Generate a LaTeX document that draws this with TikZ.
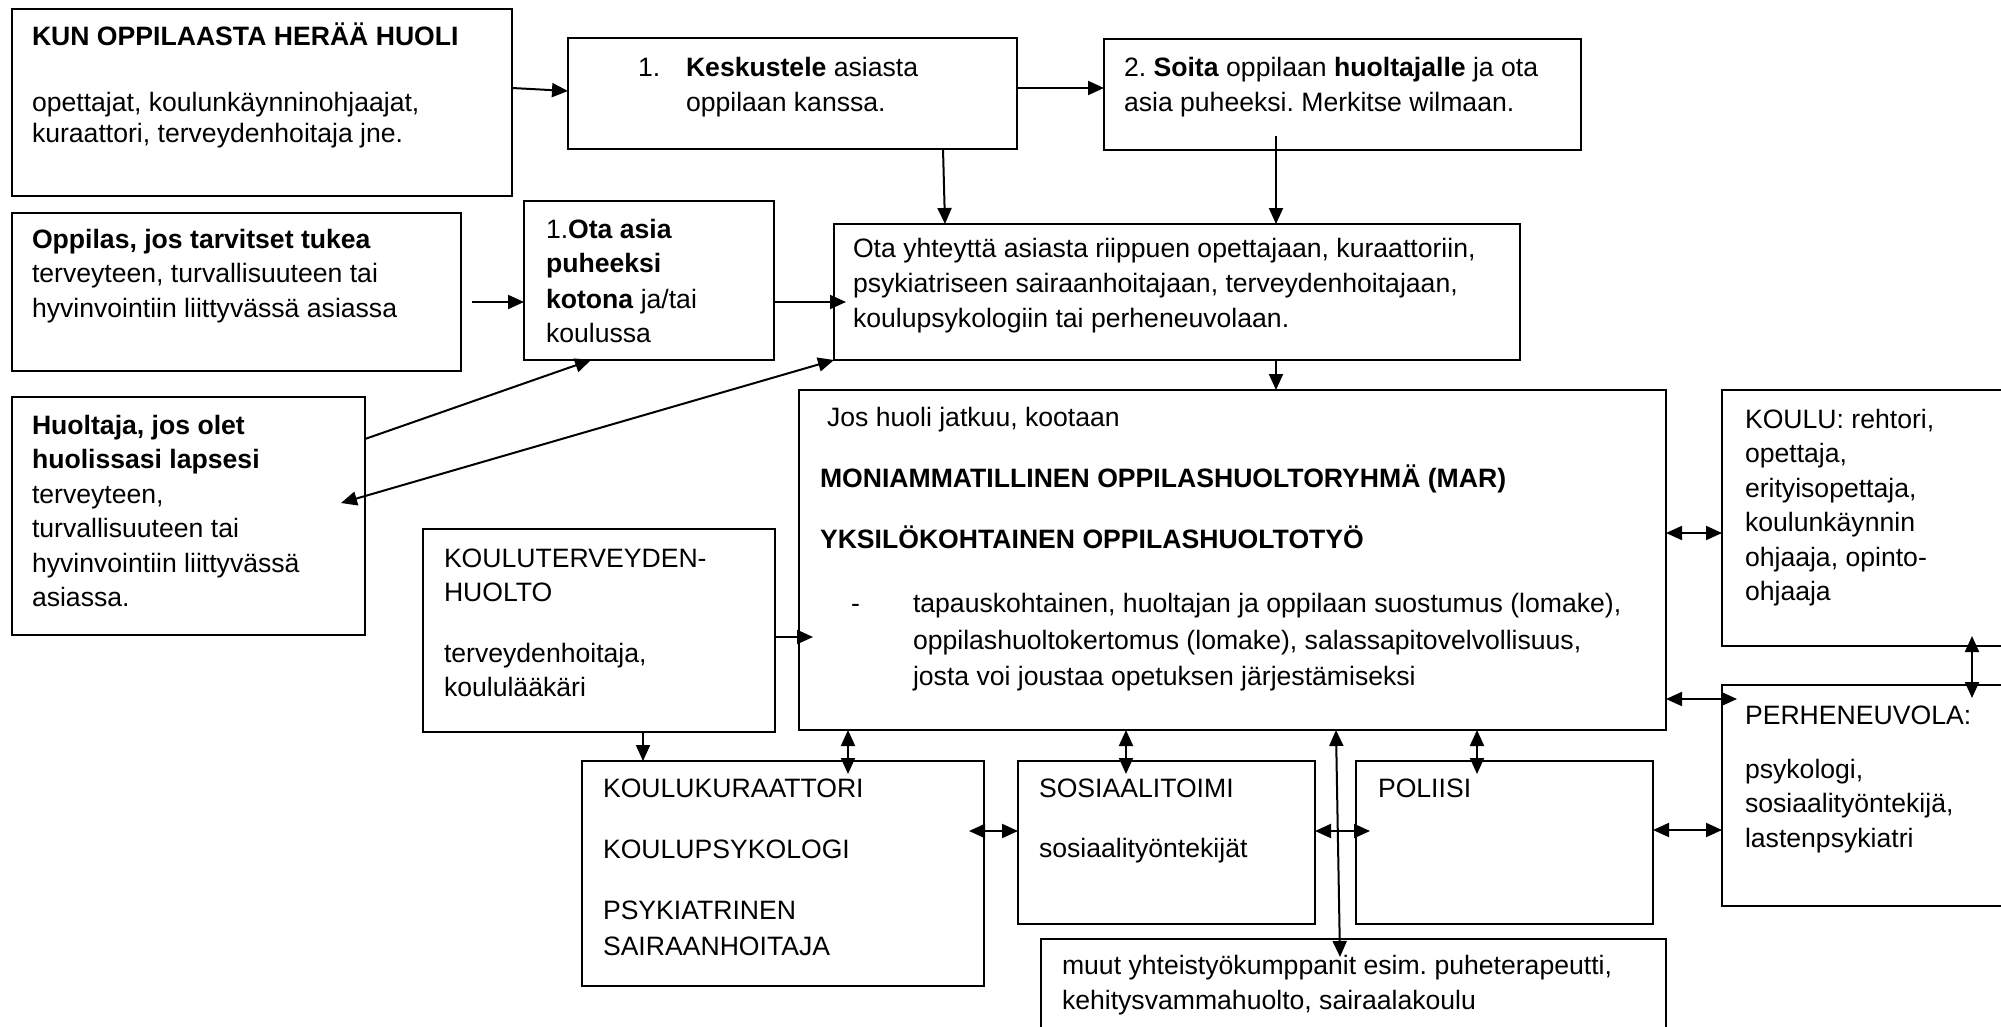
\documentclass[tikz,border=0pt]{standalone}
\usepackage{fontspec}
\setmainfont{Liberation Sans}
\usetikzlibrary{arrows.meta,calc}
\frenchspacing
\begin{document}
\begin{tikzpicture}[x=1pt,y=-1pt,
 box/.style={draw=black, line width=1.4pt, inner sep=0pt, outer sep=0pt, anchor=north west},
 txt/.style={anchor=base west, inner sep=0pt, outer sep=0pt, font=\fontsize{26.6}{32}\selectfont\frenchspacing},
 >={Triangle[length=16pt,width=14pt]},
 arr/.style={line width=2pt, ->},
 darr/.style={line width=2pt, <->}]
\useasboundingbox (0,0) rectangle (2001,1027);
\clip (0,0) rectangle (2001,1027);
\fill[white] (0,0) rectangle (2001,1027);

% boxes
\node[box, minimum width=500pt, minimum height=187pt] (A) at (12,9) {};
\node[box, minimum width=449pt, minimum height=111pt] (B) at (568,38) {};
\node[box, minimum width=477pt, minimum height=111pt] (F) at (1104,39) {};
\node[box, minimum width=449pt, minimum height=158pt] (C) at (12,213) {};
\node[box, minimum width=250pt, minimum height=159pt] (D) at (524,201) {};
\node[box, minimum width=686pt, minimum height=136pt] (E) at (834,224) {};
\node[box, minimum width=353pt, minimum height=238pt] (G) at (12,397) {};
\node[box, minimum width=352pt, minimum height=203pt] (H) at (423,529) {};
\node[box, minimum width=867pt, minimum height=340pt] (I) at (799,390) {};
\node[box, minimum width=320pt, minimum height=256pt] (J) at (1722,390) {};
\node[box, minimum width=320pt, minimum height=221pt] (K) at (1722,685) {};
\node[box, minimum width=402pt, minimum height=225pt] (L) at (582,761) {};
\node[box, minimum width=297pt, minimum height=163pt] (M) at (1018,761) {};
\node[box, minimum width=297pt, minimum height=163pt] (N) at (1356,761) {};
\node[box, minimum width=625pt, minimum height=130pt] (O) at (1041,939) {};

% texts
\node[txt] (a1) at (32,46) {\textbf{KUN OPPILAASTA HERÄÄ HUOLI}};
\node[txt] (a2) at (32,112) {opettajat, koulunkäynninohjaajat,};
\node[txt] (a3) at (32,143) {kuraattori, terveydenhoitaja jne.};

\node[txt] (b0) at (638,77) {1.};
\node[txt] (b1) at (686,77) {\textbf{Keskustele} asiasta};
\node[txt] (b2) at (686,112) {oppilaan kanssa.};

\node[txt] (f1) at (1124,77) {2. \textbf{Soita} oppilaan \textbf{huoltajalle} ja ota};
\node[txt] (f2) at (1124,112) {asia puheeksi. Merkitse wilmaan.};

\node[txt] (c1) at (32,248) {\textbf{Oppilas, jos tarvitset tukea}};
\node[txt] (c2) at (32,282) {terveyteen, turvallisuuteen tai};
\node[txt] (c3) at (32,317) {hyvinvointiin liittyvässä asiassa};

\node[txt] (d1) at (546,238) {1.\textbf{Ota asia}};
\node[txt] (d2) at (546,272) {\textbf{puheeksi}};
\node[txt] (d3) at (546,308) {\textbf{kotona} ja/tai};
\node[txt] (d4) at (546,342) {koulussa};

\node[txt] (e1) at (853,257) {Ota yhteyttä asiasta riippuen opettajaan, kuraattoriin,};
\node[txt] (e2) at (853,292) {psykiatriseen sairaanhoitajaan, terveydenhoitajaan,};
\node[txt] (e3) at (853,327) {koulupsykologiin tai perheneuvolaan.};

\node[txt] (g1) at (32,434) {\textbf{Huoltaja, jos olet}};
\node[txt] (g2) at (32,468) {\textbf{huolissasi lapsesi}};
\node[txt] (g3) at (32,503) {terveyteen,};
\node[txt] (g4) at (32,537) {turvallisuuteen tai};
\node[txt] (g5) at (32,572) {hyvinvointiin liittyvässä};
\node[txt] (g6) at (32,606) {asiassa.};

\node[txt] (h1) at (444,567) {KOULUTERVEYDEN-};
\node[txt] (h2) at (444,601) {HUOLTO};
\node[txt] (h3) at (444,662) {terveydenhoitaja,};
\node[txt] (h4) at (444,696) {koululääkäri};

\node[txt] (i1) at (827,426) {Jos huoli jatkuu, kootaan};
\node[txt] (i2) at (820,487) {\textbf{MONIAMMATILLINEN OPPILASHUOLTORYHMÄ (MAR)}};
\node[txt] (i3) at (820,548) {\textbf{YKSILÖKOHTAINEN OPPILASHUOLTOTYÖ}};
\node[txt] (i4) at (851,612) {-};
\node[txt] (i5) at (913,612) {tapauskohtainen, huoltajan ja oppilaan suostumus (lomake),};
\node[txt] (i6) at (913,649) {oppilashuoltokertomus (lomake), salassapitovelvollisuus,};
\node[txt] (i7) at (913,685) {josta voi joustaa opetuksen järjestämiseksi};

\node[txt] (j1) at (1745,428) {KOULU: rehtori,};
\node[txt] (j2) at (1745,462) {opettaja,};
\node[txt] (j3) at (1745,497) {erityisopettaja,};
\node[txt] (j4) at (1745,531) {koulunkäynnin};
\node[txt] (j5) at (1745,566) {ohjaaja, opinto-};
\node[txt] (j6) at (1745,600) {ohjaaja};

\node[txt] (k1) at (1745,724) {PERHENEUVOLA:};
\node[txt] (k2) at (1745,778) {psykologi,};
\node[txt] (k3) at (1745,812) {sosiaalityöntekijä,};
\node[txt] (k4) at (1745,847) {lastenpsykiatri};

\node[txt] (l1) at (603,797) {KOULUKURAATTORI};
\node[txt] (l2) at (603,858) {KOULUPSYKOLOGI};
\node[txt] (l3) at (603,919) {PSYKIATRINEN};
\node[txt] (l4) at (603,955) {SAIRAANHOITAJA};

\node[txt] (m1) at (1039,797) {SOSIAALITOIMI};
\node[txt] (m2) at (1039,857) {sosiaalityöntekijät};

\node[txt] (n1) at (1378,797) {POLIISI};

\node[txt] (o1) at (1062,974) {muut yhteistyökumppanit esim. puheterapeutti,};
\node[txt] (o2) at (1062,1009) {kehitysvammahuolto, sairaalakoulu};

% connectors
\draw[arr] (A.east |- 0,88) -- (B.west |- 0,91);
\draw[arr] (B.east |- 0,88) -- (F.west |- 0,88);
\draw[arr] (943,0 |- B.south) -- (945,0 |- E.north);
\draw[arr] ($(1276,0 |- F.south)+(0,-14)$) -- (1276,0 |- E.north);
\draw[arr] ($(C.east |- 0,302)+(11,0)$) -- (D.west |- 0,302);
\draw[arr] (D.east |- 0,302) -- ($(E.west |- 0,302)+(12,0)$);
\draw[arr] (1276,0 |- E.south) -- (1276,0 |- I.north);
\draw[arr] (G.east |- 0,439) -- (591,0 |- D.south);
\draw[darr] (E.south west) -- ($(G.east |- 0,503)+(-24,0)$);
\draw[arr] (H.east |- 0,637) -- ($(I.west |- 0,637)+(14,0)$);
\draw[arr] (643,0 |- H.south) -- (643,0 |- L.north);
\draw[darr] (848,0 |- I.south) -- ($(848,0 |- L.north)+(0,13)$);
\draw[darr] (1126,0 |- I.south) -- ($(1126,0 |- M.north)+(0,13)$);
\draw[darr] (1336,0 |- I.south) -- ($(1340,0 |- O.north)+(0,18)$);
\draw[darr] (1477,0 |- I.south) -- ($(1477,0 |- N.north)+(0,13)$);
\draw[darr] ($(L.east |- 0,831)+(-15,0)$) -- (M.west |- 0,831);
\draw[darr] (M.east |- 0,831) -- ($(N.west |- 0,831)+(14,0)$);
\draw[darr] (N.east |- 0,830) -- (K.west |- 0,830);
\draw[darr] (I.east |- 0,533) -- (J.west |- 0,533);
\draw[darr] (I.east |- 0,699) -- ($(K.west |- 0,699)+(15,0)$);
\draw[darr] ($(1972,0 |- J.south)+(0,-10)$) -- ($(1972,0 |- K.north)+(0,13)$);
\end{tikzpicture}
\end{document}
